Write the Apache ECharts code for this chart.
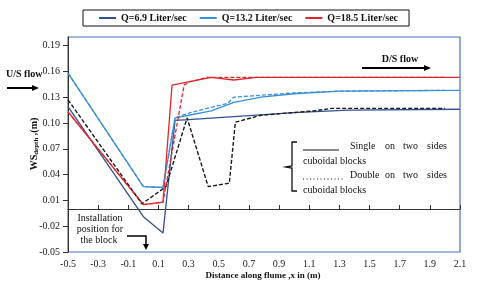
<!DOCTYPE html>
<html><head><meta charset="utf-8">
<script src="https://cdn.jsdelivr.net/npm/echarts@6/dist/echarts.min.js"></script>
<style>html,body{margin:0;padding:0;background:#fff}#c{width:480px;height:287px}</style>
</head><body><div id="c"></div>
<script>
// ---- data ----
var xTicks = [-0.5,-0.3,-0.1,0.1,0.3,0.5,0.7,0.9,1.1,1.3,1.5,1.7,1.9,2.1];
var yTicks = [-0.05,-0.02,0.01,0.04,0.07,0.10,0.13,0.16,0.19];

var q69SingleX = [-0.5, 0, 0.13, 0.21, 0.3, 1.0, 1.36, 2.1];
var q69SingleY = [0.119, -0.009, -0.028, 0.103, 0.104, 0.112, 0.115, 0.116];
var q69DoubleX = [-0.5, -0.01, 0.15, 0.29, 0.43, 0.57, 0.61, 0.78, 0.98, 1.13, 1.25, 2.0];
var q69DoubleY = [0.127, 0.006, 0.026, 0.106, 0.026, 0.030, 0.101, 0.109, 0.112, 0.114, 0.117, 0.117];

var q132SingleX = [-0.5, 0, 0.13, 0.21, 0.3, 0.45, 0.6, 0.78, 1.0, 1.3, 2.1];
var q132SingleY = [0.158, 0.026, 0.025, 0.106, 0.109, 0.114, 0.124, 0.130, 0.134, 0.137, 0.138];
var q132DoubleX = [-0.5, 0, 0.13, 0.21, 0.31, 0.56, 0.6, 1.0, 1.3, 2.0];
var q132DoubleY = [0.158, 0.026, 0.025, 0.106, 0.112, 0.123, 0.130, 0.135, 0.137, 0.138];

var q185SingleX = [-0.5, 0, 0.13, 0.19, 0.45, 0.6, 0.75, 2.1];
var q185SingleY = [0.113, 0.005, 0.008, 0.144, 0.153, 0.150, 0.153, 0.153];
var q185DoubleX = [-0.5, 0, 0.13, 0.27, 0.31, 0.42, 2.0];
var q185DoubleY = [0.113, 0.005, 0.008, 0.144, 0.148, 0.153, 0.153];

var legendNames = ['Q=6.9 Liter/sec', 'Q=13.2 Liter/sec', 'Q=18.5 Liter/sec'];

function zip(xs, ys){ return xs.map(function(x,i){ return [x, ys[i]]; }); }

var NAVY = '#33508f', LBLUE = '#3a8fd8', RED = '#e0262c', FRAME = '#4472c4';
var SERIF = '"Liberation Serif","Times New Roman",serif';

function line(name, data, color, dashed, w){
  return {
    name: name, type: 'line', data: data, symbol: 'none', animation: false,
    xAxisIndex: 0, yAxisIndex: 0,
    lineStyle: { color: color, width: w || 1.3, type: dashed ? [4, 2] : 'solid' },
    itemStyle: { color: color }, z: dashed ? 3 : 2
  };
}

function arrowRight(x1, x2, y){
  return [
    { type: 'line', shape: { x1: x1, y1: y, x2: x2 - 5, y2: y }, style: { stroke: '#000', lineWidth: 2 } },
    { type: 'polygon', shape: { points: [[x2, y], [x2 - 7, y - 3], [x2 - 7, y + 3]] }, style: { fill: '#000' } }
  ];
}
function t(x, y, s, opt){
  opt = opt || {};
  return { type: 'text', x: x, y: y, style: {
    text: s, font: (opt.bold ? 'bold ' : '') + (opt.size || 10) + 'px ' + SERIF,
    fill: '#111', textAlign: opt.align || 'left', textVerticalAlign: 'middle' } };
}

var chart = echarts.init(document.getElementById('c'));
var graphics = [];
graphics = graphics.concat([t(6, 74, 'U/S flow', { bold: true })], arrowRight(7, 39, 88));
graphics = graphics.concat([t(400, 59, 'D/S flow', { bold: true, align: 'center' })], arrowRight(362, 431, 68));
graphics.push(t(100, 218, 'Installation', { align: 'center' }));
graphics.push(t(100, 229, 'position for', { align: 'center' }));
graphics.push(t(99, 240, 'the block', { align: 'center' }));
graphics.push({ type: 'polyline', shape: { points: [[127, 236], [146, 236], [146, 245]] }, style: { stroke: '#000', lineWidth: 1.5, fill: null } });
graphics.push({ type: 'polygon', shape: { points: [[146, 250], [143, 244], [149, 244]] }, style: { fill: '#000' } });
// bracket
graphics.push({ type: 'polyline', shape: { points: [[297, 142], [292, 142], [292, 166], [286, 167], [292, 168], [292, 191], [297, 191]] }, style: { stroke: '#111', lineWidth: 1.3, fill: null } });
// legend text block
graphics.push({ type: 'line', shape: { x1: 303, y1: 150, x2: 339, y2: 150 }, style: { stroke: '#111', lineWidth: 1 } });
graphics.push({ type: 'line', shape: { x1: 303, y1: 179, x2: 345, y2: 179 }, style: { stroke: '#111', lineWidth: 1, lineDash: [1, 2.5] } });
[[146, 'Single'], [175, 'Double']].forEach(function(r){
  graphics.push(t(350, r[0], r[1]));
  graphics.push(t(385, r[0], 'on'));
  graphics.push(t(403, r[0], 'two'));
  graphics.push(t(427, r[0], 'sides'));
});
graphics.push(t(303, 161, 'cuboidal blocks'));
graphics.push(t(303, 190, 'cuboidal blocks'));
// axis titles
graphics.push({ type: 'text', x: 263, y: 276, style: { text: 'Distance along flume ,x in (m)', font: 'bold 9px ' + SERIF, fill: '#111', textAlign: 'center', textVerticalAlign: 'middle' } });
graphics.push({ type: 'text', x: 34, y: 144, rotation: Math.PI / 2, style: {
  text: '{a|WS}{b|depth}{a| ,(m)}', fill: '#111', textAlign: 'center', textVerticalAlign: 'middle',
  rich: { a: { font: 'bold 10px ' + SERIF, fill: '#111' }, b: { font: 'bold 7px ' + SERIF, fill: '#111', padding: [5, 0, 0, 0] } } } });

var option = {
  animation: false,
  backgroundColor: '#fff',
  grid: { left: 68, right: 20, top: 37, bottom: 35, show: true, borderColor: FRAME, borderWidth: 1.2, backgroundColor: 'transparent' },
  legend: {
    data: legendNames, left: 83, top: 10, padding: [3, 11, 3, 16], itemGap: 13, itemWidth: 17, itemHeight: 2, itemTextGap: 2,
    icon: 'rect', borderColor: '#111', borderWidth: 1, backgroundColor: '#fff',
    textStyle: { fontFamily: SERIF, fontSize: 10, fontWeight: 'bold', color: '#111' }
  },
  xAxis: [
    { type: 'value', min: -0.5, max: 2.1, position: 'bottom',
      axisLine: { show: false, onZero: false }, axisTick: { show: false }, splitLine: { show: false },
      axisLabel: { customValues: xTicks, margin: 7, fontFamily: SERIF, fontSize: 10, color: '#222', formatter: function(v){ return v.toFixed(1); } } },
    { type: 'value', min: -0.5, max: 2.1, position: 'top',
      axisLine: { show: true, onZero: true, lineStyle: { color: '#333', width: 1 } },
      axisTick: { show: true, customValues: xTicks, length: 4, lineStyle: { color: '#333' } },
      axisLabel: { show: false }, splitLine: { show: false } }
  ],
  yAxis: [
    { type: 'value', min: -0.05, max: 0.2,
      axisLine: { show: true, onZero: false, lineStyle: { color: '#333', width: 1 } },
      axisTick: { show: true, customValues: yTicks, length: 5, lineStyle: { color: '#333' } },
      axisLabel: { customValues: yTicks, margin: 8, fontFamily: SERIF, fontSize: 10, color: '#222', formatter: function(v){ return v.toFixed(2); } },
      splitLine: { show: false } }
  ],
  series: [
    line(legendNames[0], zip(q69SingleX, q69SingleY), NAVY, false),
    line(legendNames[1], zip(q132SingleX, q132SingleY), LBLUE, false),
    line(legendNames[2], zip(q185SingleX, q185SingleY), RED, false),
    line('Q=6.9 double', zip(q69DoubleX, q69DoubleY), '#1a1a1a', true, 1.4),
    line('Q=13.2 double', zip(q132DoubleX, q132DoubleY), LBLUE, true),
    line('Q=18.5 double', zip(q185DoubleX, q185DoubleY), RED, true)
  ],
  graphic: graphics
};
chart.setOption(option);
</script></body></html>
